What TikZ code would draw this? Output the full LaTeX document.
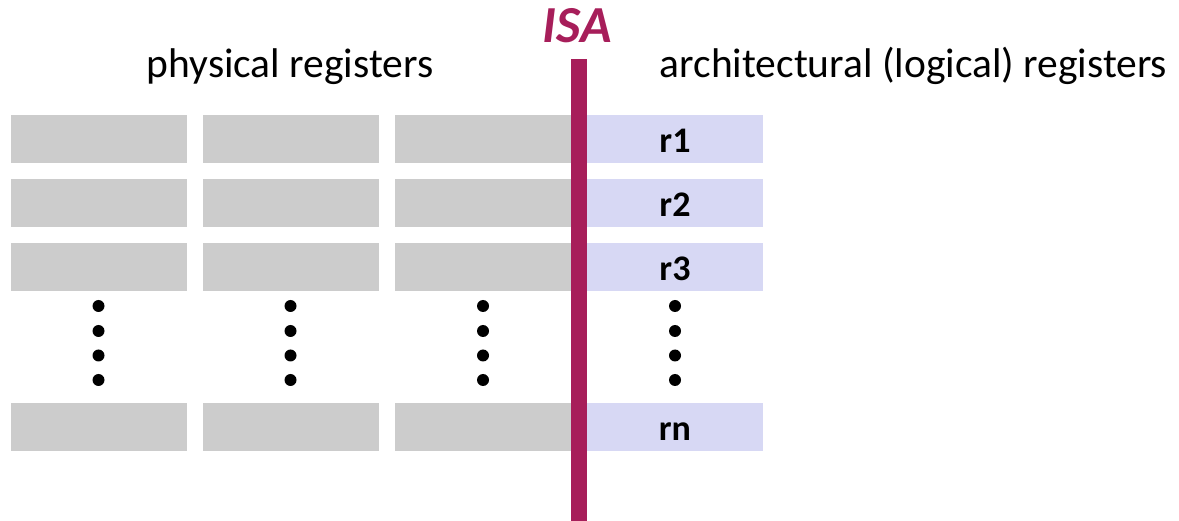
\documentclass[tikz,border=0pt]{standalone}
\usepackage{fontspec}
\setmainfont{Carlito}
\definecolor{regGray}{HTML}{CCCCCC}
\definecolor{regBlue}{HTML}{D7D8F4}
\definecolor{isaPurple}{HTML}{A71E5A}
\begin{document}
\begin{tikzpicture}[x=1pt,y=-1pt,
  physreg/.style={rectangle, fill=regGray, draw=none, minimum width=176pt, minimum height=48pt, inner sep=0pt, anchor=north west},
  archreg/.style={rectangle, fill=regBlue, draw=none, minimum width=184pt, minimum height=48pt, inner sep=0pt, anchor=north west},
  reglabel/.style={anchor=base, inner sep=0pt, font=\fontsize{36}{40}\selectfont\bfseries},
  vdot/.style={circle, fill=black, draw=none, minimum size=12pt, inner sep=0pt},
  heading/.style={anchor=base, inner sep=0pt, font=\fontsize{41.5}{48}\selectfont}]
\useasboundingbox (0,0) rectangle (1179,521);
% physical registers
\foreach \c/\x in {1/11,2/203,3/395}{
  \foreach \r/\y in {1/115,2/179,3/243,n/403}{
    \node[physreg] (p\c-\r) at (\x,\y) {};
  }
}
% architectural registers
\foreach \r/\y in {1/115,2/179,3/243,n/403}{
  \node[archreg] (a\r) at (579,\y) {};
  \node[reglabel] (l\r) at (675,153+\y-115) {r\r};
}
% vertical dots
\foreach \c/\x in {1/98.5,2/290.5,3/483,4/675}{
  \foreach \k/\y in {1/306,2/331,3/355.5,4/380}{
    \node[vdot] (d\c-\k) at (\x,\y) {};
  }
}
% ISA bar
\node[rectangle, fill=isaPurple, draw=none, minimum width=16pt, minimum height=462pt, inner sep=0pt, anchor=north] (bar) at (579,59) {};
\node[anchor=base, inner sep=0pt, text=isaPurple, font=\fontsize{52}{60}\selectfont\bfseries\itshape] (isa) at (577.5,43) {ISA};
% headings
\node[heading] (phys) at (290,78) {physical registers};
\node[heading] (arch) at (913.5,78) {architectural (logical) registers};
\end{tikzpicture}
\end{document}
